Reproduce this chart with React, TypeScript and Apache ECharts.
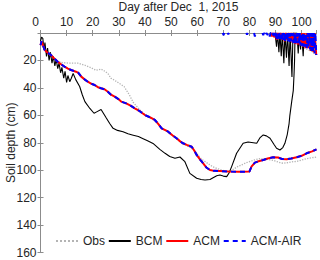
import React, { useEffect, useRef } from "react";
import * as echarts from "echarts";

type P = [number, number] | [string, string];

const xTitle = "Day after Dec  1, 2015";
const yTitle = "Soil depth (cm)";
const seriesNames = ["Obs", "BCM", "ACM", "ACM-AIR"];
const xMinLabel = "0";

// [day, depth cm]
const obsMain: P[] = [
  [0, 8], [2, 13], [4, 17], [6, 20], [8, 21.5], [11, 22], [14.3, 22], [17, 23.5], [19, 25],
  [21.3, 27.2], [23.2, 26.3], [24.3, 27.5], [25.8, 29.5], [27, 33], [28.4, 34.5], [30, 36.5],
  [32, 39], [34, 45], [35.5, 50.5], [38, 56], [41, 61], [44.4, 64.6], [46.5, 69.5], [48.9, 72.5],
  [52.1, 77], [54.6, 80.8], [57.9, 84], [60, 88], [61.7, 92], [63.6, 94.5], [66, 97.5],
  [68.7, 99.5], [71, 100.8], [72.5, 101], [75.1, 97.8], [78.9, 94.5], [82, 92.5], [84, 91.5],
  [86.6, 92], [89.1, 92.8], [91.7, 94.5], [93, 95], [96.8, 93.8], [98.1, 93.6], [101.9, 91.6],
  [105.7, 90.4],
];
const obsSurface: P[] = [
  [97.5, 7], [99, 9], [100.5, 10], [102, 12], [103.5, 13], [105, 15], [105.7, 16],
];

const bcmMain: P[] = [
  [0, 6], [0.4, 3], [0.9, 4], [1.3, 12], [1.7, 7], [2.3, 17], [2.7, 11], [3.3, 20], [3.8, 14],
  [4.4, 22], [4.9, 17], [5.5, 24], [6.0, 19], [6.6, 26], [7.1, 22], [7.7, 29], [8.2, 25],
  [8.9, 33], [9.4, 28], [10.0, 36], [10.5, 31], [11.2, 35.5], [11.8, 33], [12.5, 29.5],
  [13.5, 34], [15, 39], [16, 45], [17, 50], [18.9, 55], [20.5, 58.5], [21.5, 57.5],
  [23.2, 55.8], [25.2, 62], [26.5, 66], [27.8, 69.5], [29.5, 71], [31.6, 72], [33.5, 73.5],
  [35.5, 74.5], [37.5, 75.5], [39.3, 77], [41, 78.5], [43.1, 80.5], [45.7, 84.8], [47.7, 87.7],
  [49.5, 90], [51.5, 91.3], [53.4, 90.4], [55.3, 93.8], [57.2, 102.3], [59.8, 105.9],
  [61.5, 106.8], [63, 107.1], [64.9, 106.8], [66.1, 105.5], [67.5, 104], [68.7, 103.5],
  [70, 104.3], [71.3, 104.7], [72.2, 102], [73.2, 97.4], [75.1, 87.7], [77.6, 80.4],
  [79.5, 79.5], [81.5, 80], [82.8, 80.4], [84, 76.5], [85.3, 74.3], [86.5, 75], [87.9, 76.7],
  [89.5, 81.5], [90.4, 84], [91.7, 85.3], [92.8, 83.5], [93.6, 80.4], [94.5, 74], [95.2, 66],
  [95.5, 60], [96.2, 50], [96.8, 42], [97.1, 30], [97.3, 20], [97.5, 0],
];
const bcmSurface: P[] = [
  [89.8, 0], [90.4, 10], [90.8, 0], [91.3, 14], [91.7, 0], [92.2, 17], [92.6, 0], [93.2, 22],
  [93.6, 0], [94.2, 18], [94.6, 0], [95.2, 24], [95.6, 0], [96.3, 32], [96.7, 0], [97.5, 0],
  [98.2, 0], [98.7, 15], [99.1, 0], [99.6, 12], [100, 0], [100.6, 17], [101, 0], [101.6, 9],
  [102, 0], [102.6, 6], [103, 0],
];

const acmMain: P[] = [
  [0, 9], [0.4, 6], [1, 9], [1.5, 12], [2.5, 14], [4, 16], [5.5, 19], [6.6, 21], [8, 23],
  [9.2, 24.5], [10.5, 26], [11.7, 27], [13.6, 28.2], [14.5, 29], [15.6, 31.8], [17, 34],
  [18.1, 35.5], [19.5, 37], [20.7, 37.9], [22, 39.5], [23.2, 40.3], [24.5, 41], [25.8, 42.8],
  [27, 45], [28.4, 46.4], [29.7, 48], [30.9, 50], [32.8, 51.3], [34.5, 53], [36.1, 54.9],
  [38, 57], [40, 59.8], [42, 61.5], [43.8, 63.4], [45, 66], [46.4, 69.5], [48, 71],
  [48.9, 71.9], [50.5, 74.5], [52.1, 76.7], [53.5, 79], [54.6, 80.4], [56, 81.5], [57.9, 82.9],
  [59, 86], [59.8, 88.9], [61, 92], [62.3, 95], [63.5, 98], [64.9, 99.9], [66.5, 100.5],
  [68.7, 100.6], [72, 101], [76, 101.2], [80, 101], [80.8, 97.4], [82.1, 94.5], [83.5, 93.5],
  [85.3, 92.6], [87, 91.5], [89.1, 90.6], [91, 90.8], [92.5, 91.8], [94.3, 92], [96, 91.5],
  [98.1, 90.6], [100, 89.5], [101.9, 87.7], [104, 86.3], [105.7, 84.8],
];
const acmSurface: P[] = [
  [88.2, 0], [88.6, 2.5], [89, 0], [89.5, 3], [90, 0], [90.5, 5], [91, 0], [91.5, 4], [92, 0],
  [92.5, 5], [93, 0], [93.5, 6], [94, 0], [94.5, 5], [95, 0], [95.5, 6], [96, 0], [96.5, 7],
  [97, 0], [97.5, 8], [98, 0], [98.5, 8.5], [99, 0], [99.5, 9], [100, 0], [100.5, 10], [101, 0],
  [101.5, 11], [102, 0], [102.5, 11], [103, 0], [103.5, 13], [104, 0], [104.5, 14], [105, 0],
  [105.6, 16],
];

const acmAirMain: P[] = [
  [0, 9], [0.4, 6], [1, 9], [1.5, 12], [2.5, 14], [4, 16], [5.5, 19], [6.6, 21], [8, 23],
  [9.2, 24.5], [10.5, 26], [11.7, 27], [13.6, 28.2], [14.5, 29], [15.6, 31.8], [17, 34],
  [18.1, 35.5], [19.5, 37], [20.7, 37.9], [22, 39.5], [23.2, 40.3], [24.5, 41], [25.8, 42.8],
  [27, 45], [28.4, 46.4], [29.7, 48], [30.9, 50], [32.8, 51.3], [34.5, 53], [36.1, 54.9],
  [38, 57], [40, 59.8], [42, 61.5], [43.8, 63.4], [45, 66], [46.4, 69.5], [48, 71],
  [48.9, 71.9], [50.5, 74.5], [52.1, 76.7], [53.5, 79], [54.6, 80.4], [56, 81.5], [57.9, 82.9],
  [59, 86], [59.8, 88.9], [61, 92], [62.3, 95], [63.5, 98], [64.9, 99.9], [66.5, 100.5],
  [68.7, 100.6], [72, 101], [76, 101.2], [80, 101], [80.8, 97.4], [82.1, 94.5], [83.5, 93.5],
  [85.3, 92.6], [87, 91.5], [89.1, 90.6], [91, 90.8], [92.5, 91.8], [94.3, 92], [96, 91.5],
  [98.1, 90.6], [100, 89.5], [101.9, 87.7], [104, 86.3], [105.7, 84.8],
];
const acmAirSurface: P[] = [
  [69.8, 0], [70.1, 1.5], [70.4, 0], ["-", "-"], [71.6, 0], [71.9, 1], [72.2, 0], ["-", "-"],
  [78.8, 0], [79.1, 1.2], [79.4, 0], ["-", "-"], [81.8, 0], [82.1, 2.5], [82.4, 0], ["-", "-"],
  [85, 0], [85.3, 1.5], [85.6, 0], [86.2, 2], [86.5, 0], [87, 1.5], [87.3, 0], [87.8, 2.5],
  [88.1, 0], [88.5, 0], [88.8, 2], [89.1, 0], [89.4, 3.5], [89.7, 0], [90, 4], [90.3, 0],
  [90.6, 4.5], [90.9, 0], [91.2, 5], [91.5, 0], [91.8, 4.5], [92.1, 0], [92.4, 5.5], [92.7, 0],
  [93, 5], [93.3, 0], [93.6, 6], [93.9, 0], [94.2, 5.5], [94.5, 0], [94.8, 6], [95.1, 0],
  [95.4, 6.5], [95.7, 0], [96, 6], [96.3, 0], [96.6, 7], [96.9, 0], [97.2, 7.5], [97.5, 0],
  [97.8, 8], [98.1, 0], [98.4, 7.5], [98.7, 0], [99, 8.5], [99.3, 0], [99.6, 9], [99.9, 0],
  [100.2, 9.5], [100.5, 0], [100.8, 10], [101.1, 0], [101.4, 10], [101.7, 0], [102, 11],
  [102.3, 0], [102.6, 11], [102.9, 0], [103.2, 12], [103.5, 0], [103.8, 13], [104.1, 0],
  [104.4, 13], [104.7, 0], [105, 15], [105.3, 0], [105.6, 16],
];

const FONT = "'Liberation Sans', Arial, Helvetica, sans-serif";
const AX = "#8c8c8c";
const TXT = "#262626";

export default function App() {
  const ref = useRef<HTMLDivElement>(null);
  useEffect(() => {
    if (!ref.current) return;
    const chart = echarts.init(ref.current, undefined, { renderer: "svg" });
    const axisCommonX = {
      type: "value",
      min: 0,
      max: 105.7,
      interval: 10,
      axisLine: { show: true, lineStyle: { color: AX, width: 1 } },
      axisTick: { show: true, inside: true, length: 3, lineStyle: { color: AX } },
      splitLine: { show: false },
    };
    const axisCommonY = {
      type: "value",
      inverse: true,
      min: 0,
      max: 160,
      interval: 20,
      axisLine: { show: true, lineStyle: { color: AX, width: 1 } },
      axisTick: { show: true, inside: true, length: 3, lineStyle: { color: AX } },
      splitLine: { show: false },
    };
    const obsStyle = { color: "#b4b4b4", width: 1.3, type: "dotted" };
    const bcmStyle = { color: "#000000", width: 1.1, type: "solid" };
    const acmStyle = { color: "#ff0000", width: 2, type: "solid" };
    const airStyle = { color: "#0000ff", width: 2, type: [5, 4] };
    const mk = (name: string, data: P[], lineStyle: any, z: number) => ({
      name,
      type: "line",
      data,
      showSymbol: false,
      symbol: "none",
      connectNulls: false,
      lineStyle,
      itemStyle: { color: lineStyle.color },
      z,
    });
    chart.setOption({
      animation: false,
      textStyle: { fontFamily: FONT },
      grid: {
        left: 40.5,
        top: 33,
        width: 276,
        height: 219.5,
        containLabel: false,
        outerBoundsMode: "none",
      },
      graphic: [
        {
          type: "text",
          x: 35.5,
          y: 21.7,
          style: {
            text: xMinLabel,
            fontSize: 12,
            fontFamily: FONT,
            fill: TXT,
            align: "center",
            verticalAlign: "middle",
          },
        },
      ],
      xAxis: [
        {
          ...axisCommonX,
          position: "top",
          name: xTitle,
          nameLocation: "middle",
          nameGap: 20,
          nameMoveOverlap: false,
          nameTextStyle: { fontSize: 12, color: TXT, fontFamily: FONT },
          axisLabel: {
            show: true,
            fontSize: 12,
            color: TXT,
            margin: 5,
            showMinLabel: false,
            showMaxLabel: false,
            fontFamily: FONT,
          },
        },
        { ...axisCommonX, position: "bottom", axisLabel: { show: false } },
      ],
      yAxis: [
        {
          ...axisCommonY,
          position: "left",
          name: yTitle,
          nameLocation: "middle",
          nameGap: 24,
          nameMoveOverlap: false,
          nameTextStyle: { fontSize: 12, color: TXT, fontFamily: FONT },
          axisLabel: {
            show: true,
            fontSize: 12,
            color: TXT,
            margin: 4,
            showMinLabel: false,
            fontFamily: FONT,
          },
        },
        { ...axisCommonY, position: "right", axisLabel: { show: false } },
      ],
      legend: {
        data: seriesNames,
        left: 55,
        top: 235,
        padding: 0,
        itemWidth: 22,
        itemHeight: 12,
        itemGap: 2.8,
        itemStyle: { opacity: 0, borderWidth: 0 },
        textStyle: { fontSize: 12, color: TXT, fontFamily: FONT },
      },
      series: [
        mk("Obs", obsMain, obsStyle, 2),
        mk("Obs", obsSurface, obsStyle, 2),
        mk("BCM", bcmMain, bcmStyle, 3),
        mk("BCM", bcmSurface, bcmStyle, 3),
        mk("ACM", acmMain, acmStyle, 4),
        mk("ACM", acmSurface, acmStyle, 4),
        mk("ACM-AIR", acmAirMain, airStyle, 5),
        mk("ACM-AIR", acmAirSurface, airStyle, 5),
      ],
    });
    return () => chart.dispose();
  }, []);
  return (
    <div
      ref={ref}
      style={{ position: "fixed", left: 0, top: 0, width: 320, height: 260, background: "#fff" }}
    />
  );
}
